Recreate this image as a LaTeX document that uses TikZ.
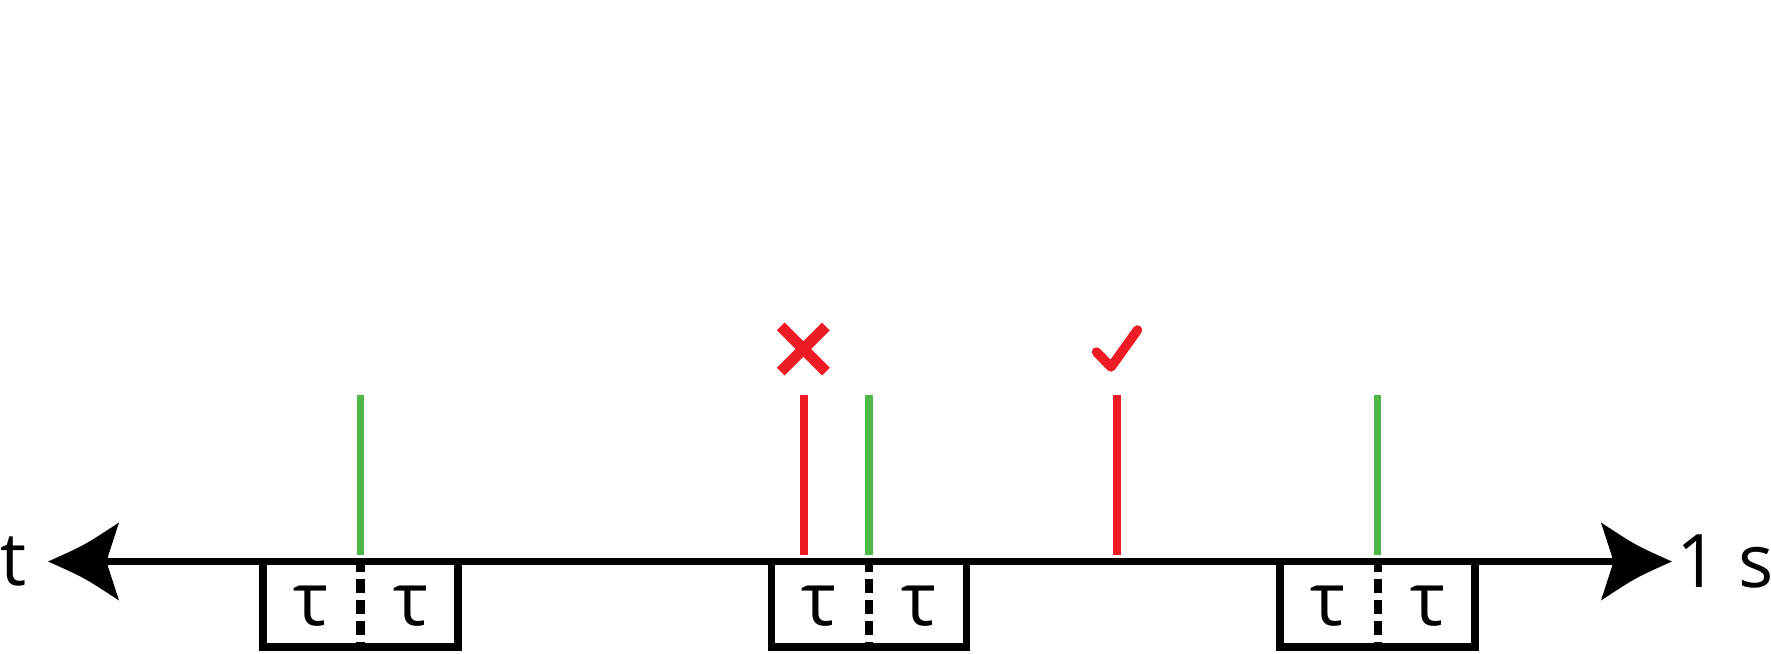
\documentclass[tikz,border=0pt]{standalone}
\usepackage{fontspec}
\setmainfont{Open Sans}
\usetikzlibrary{positioning}
\definecolor{tickred}{RGB}{237,28,36}
\definecolor{tickgreen}{RGB}{77,184,72}
\tikzset{
    axisline/.style={line width=0.072cm,black},
    slotbox/.style={draw,line width=0.072cm,minimum width=1.95cm,minimum height=0.855cm,inner sep=0pt},
    divider/.style={line width=0.08cm,dash pattern=on 0.14cm off 0.07cm},
    event/.style={line width=0.076cm},
    lbl/.style={inner sep=0pt,font=\fontsize{21}{24}\selectfont},
}
\newcommand{\arrowhead}[2]{% #1 = tip, #2 = 1 right, -1 left
    \fill[shift={#1},xscale=#2] (0,0) .. controls (-36,-16) .. (-71,-39) -- (-60,-5) -- (-60,5)
        -- (-71,39) .. controls (-36,16) .. cycle;
}
\newcommand{\slot}[2]{% #1 = x of the centre, #2 = name
    \node[slotbox] (#2) at (#1,604.25) {};
    \node[lbl] (#2l) at ([xshift=-0.5cm,yshift=-0.0225cm]#2.center) {τ};
    \node[lbl] (#2r) at ([xshift=0.5cm,yshift=-0.0225cm]#2.center) {τ};
    \draw[divider] (#2.north) -- (#2.south);
    \draw[event,tickgreen] ([yshift=0.03cm]#2.north) -- ++(0,-160);
}

\begin{document}
\begin{tikzpicture}[x=0.01cm,y=-0.01cm]
    \useasboundingbox (0,0) rectangle (1771,654);
    \coordinate (tipL) at (48,561.5);
    \coordinate (tipR) at (1672,561.5);

    \draw[axisline,shorten <=0.6cm,shorten >=0.6cm] (tipL) -- (tipR);
    \arrowhead{(tipL)}{-1};
    \arrowhead{(tipR)}{1};

    \node[lbl,left=0.21cm of tipL]  (tlab) {t};
    \node[lbl,right=0.04cm of tipR] (slab) {1 s};

    \slot{360.5}{sa};
    \slot{869}{sb};
    \slot{1377.5}{sc};

    % red events: rejected and accepted
    \coordinate (ra) at (804,555);
    \coordinate (rb) at (1117,555);
    \draw[event,tickred] (ra) -- ++(0,-160);
    \draw[event,tickred] (rb) -- ++(0,-160);
    \draw[line width=0.11cm,tickred] (780.7,326.4) -- (825.9,371.6)
        (780.7,371.6) -- (825.9,326.4);
    \draw[line width=0.095cm,tickred,line cap=round,line join=round]
        (1096.5,352) -- (1111,367) -- (1137.5,330);
\end{tikzpicture}
\end{document}
